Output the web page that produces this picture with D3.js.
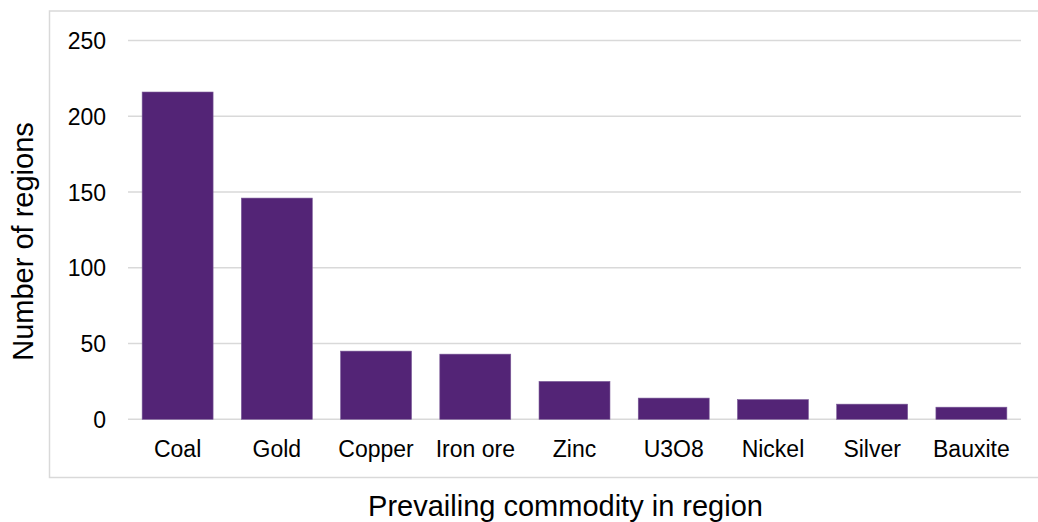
<!DOCTYPE html>
<html>
<head>
<meta charset="utf-8">
<script src="https://cdn.jsdelivr.net/npm/d3@7"></script>
<style>
  html, body { margin: 0; padding: 0; background: #fff; }
  svg { display: block; }
  text { font-family: "Liberation Sans", Arial, sans-serif; fill: #000; }
</style>
</head>
<body>
<svg id="chart" width="1038" height="522"></svg>
<script>
const categories = ["Coal", "Gold", "Copper", "Iron ore", "Zinc", "U3O8", "Nickel", "Silver", "Bauxite"];
const values = [216, 146, 45, 43, 25, 14, 13, 10, 8];
const yTicks = [0, 50, 100, 150, 200, 250];
const yTitle = "Number of regions";
const xTitle = "Prevailing commodity in region";

const svg = d3.select("#chart");
const plot = { left: 128, right: 1021, top: 40.5, bottom: 419.3 };

// outer frame
svg.append("rect")
  .attr("x", 49.5).attr("y", 11)
  .attr("width", 1000).attr("height", 466.5)
  .attr("fill", "none").attr("stroke", "#d9d9d9").attr("stroke-width", 1.5);

const x = d3.scaleBand().domain(categories).range([plot.left, plot.right]).paddingInner(0.285).paddingOuter(0.1425);
const y = d3.scaleLinear().domain([0, 250]).range([plot.bottom, plot.top]);

// gridlines
svg.append("g").selectAll("line").data(yTicks).join("line")
  .attr("x1", plot.left).attr("x2", plot.right)
  .attr("y1", d => y(d)).attr("y2", d => y(d))
  .attr("stroke", "#d9d9d9").attr("stroke-width", 1.5);

// bars
svg.append("g").selectAll("rect").data(values).join("rect")
  .attr("x", (d, i) => x(categories[i]))
  .attr("width", x.bandwidth())
  .attr("y", d => y(d))
  .attr("height", d => y(0) - y(d))
  .attr("fill", "#532476")
  .attr("stroke", "#7a5a98").attr("stroke-width", 0.6);

// y axis
const yAxis = d3.axisLeft(y).tickValues(yTicks).tickSize(0).tickPadding(0);
const gy = svg.append("g").attr("transform", "translate(106,0)").call(yAxis);
gy.select(".domain").remove();
gy.selectAll("text").attr("font-size", 23).attr("dy", "0.35em")
  .style("font-family", '"Liberation Sans", Arial, sans-serif').attr("fill", "#000");

// x axis
const xAxis = d3.axisBottom(x).tickSize(0).tickPadding(0);
const gx = svg.append("g").attr("transform", `translate(0,${plot.bottom})`).call(xAxis);
gx.select(".domain").remove();
gx.selectAll("text").attr("font-size", 23).attr("y", 37.5).attr("dy", 0)
  .style("font-family", '"Liberation Sans", Arial, sans-serif').attr("fill", "#000");

// titles
svg.append("text")
  .attr("x", (368 + 763) / 2).attr("y", 515.5)
  .attr("text-anchor", "middle").attr("font-size", 29)
  .text(xTitle);

svg.append("text")
  .attr("transform", "translate(33,241.5) rotate(-90)")
  .attr("text-anchor", "middle").attr("font-size", 29)
  .text(yTitle);
</script>
</body>
</html>
